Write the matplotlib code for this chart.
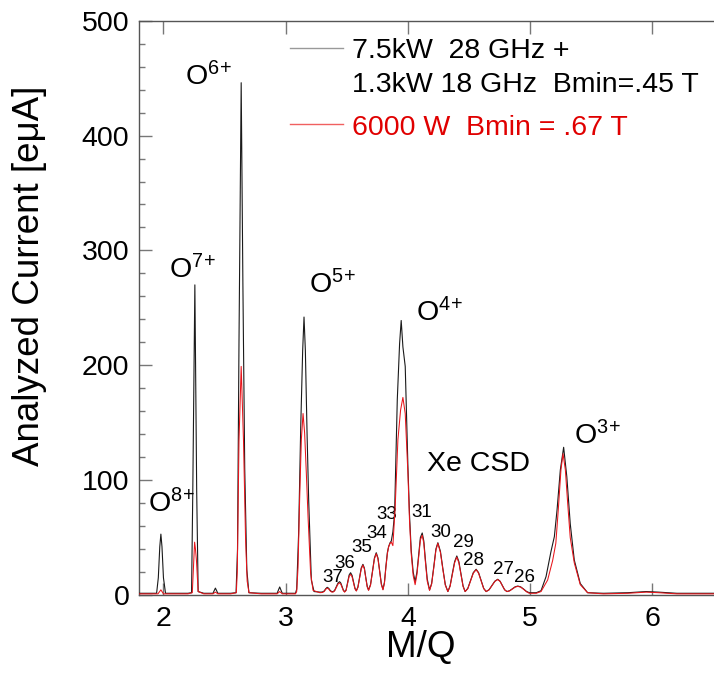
import matplotlib
matplotlib.use("Agg")
import matplotlib.pyplot as plt
from matplotlib.ticker import MultipleLocator, FixedLocator

plt.rcParams['font.family'] = ['Liberation Sans', 'DejaVu Sans']
plt.rcParams['mathtext.fontset'] = 'custom'
plt.rcParams['mathtext.rm'] = 'Liberation Sans'
plt.rcParams['mathtext.it'] = 'Liberation Sans'
plt.rcParams['mathtext.bf'] = 'Liberation Sans:bold'

# ---- data ----
mq_black = [1.80, 1.90, 1.944, 1.958, 1.970, 1.979, 1.988, 2.000, 2.017, 2.10, 2.20,
            2.230, 2.240, 2.257, 2.272, 2.284, 2.33, 2.405, 2.425, 2.445, 2.55,
            2.594, 2.606, 2.618, 2.636, 2.650, 2.665, 2.682, 2.699, 2.80, 2.93, 2.951, 2.972,
            3.08, 3.090, 3.106, 3.123, 3.139, 3.150, 3.161, 3.175, 3.188, 3.21, 3.232,
            3.28, 3.30, 3.315, 3.328, 3.340, 3.352, 3.364, 3.376, 3.387,
            3.400, 3.414, 3.428, 3.441, 3.451, 3.462, 3.472, 3.482,
            3.494, 3.507, 3.519, 3.531, 3.543, 3.555, 3.567, 3.578,
            3.591, 3.605, 3.618, 3.632, 3.644, 3.655, 3.667, 3.678,
            3.694, 3.71, 3.726, 3.741, 3.755, 3.769, 3.783, 3.796,
            3.808, 3.82, 3.832, 3.842, 3.854, 3.864, 3.877, 3.891, 3.913, 3.932, 3.945,
            3.959, 3.978, 4.000, 4.013, 4.027, 4.043, 4.059,
            4.074, 4.088, 4.102, 4.117, 4.130, 4.142, 4.158, 4.177,
            4.194, 4.212, 4.229, 4.245, 4.266, 4.286, 4.306, 4.327,
            4.345, 4.363, 4.382, 4.400, 4.417, 4.434, 4.451, 4.468,
            4.49, 4.513, 4.535, 4.558, 4.578, 4.599, 4.62, 4.64,
            4.664, 4.688, 4.711, 4.735, 4.754, 4.772, 4.791, 4.81,
            4.832, 4.855, 4.877, 4.899, 4.922, 4.946, 4.97, 4.993,
            5.05, 5.089, 5.13, 5.17, 5.198, 5.22, 5.247, 5.274, 5.30, 5.328,
            5.361, 5.41, 5.47, 5.60, 5.80, 5.95, 6.05, 6.20, 6.50]
cur_black = [1.5, 1.5, 1.5, 15, 42, 53, 42, 15, 1.5, 1.5, 1.5,
             2, 90, 270, 90, 3, 1.5, 1.5, 6, 1.5, 1.5,
             2, 40, 220, 446, 270, 110, 22, 2, 1.5, 1.5, 7, 1.5,
             1.5, 5, 54, 146, 213, 242, 213, 140, 83, 13, 3,
             2.5, 2.6, 3.5, 5.5, 6.7, 5.8, 4.0, 3.0, 2.9,
             3.9, 7.2, 10.4, 11.6, 10.4, 7.2, 4.2, 2.9,
             4.3, 11.2, 17.4, 19.4, 17.1, 11.5, 5.8, 3.7,
             7.0, 15.5, 23.5, 26.7, 23.4, 15.5, 7.6, 4.4,
             9.0, 20.6, 32.2, 36.8, 32.2, 21.0, 9.5, 5.0,
             11, 25, 37, 42, 45.5, 47, 55, 71, 170, 219, 239,
             216, 199, 112, 70, 39, 20, 11.6,
             20, 35, 50, 54, 47, 32, 14, 4.4,
             10, 25, 40, 45.5, 38, 23, 9, 3,
             8, 18.5, 29, 34, 29, 18.5, 8, 3,
             5.8, 12.7, 19.5, 22.4, 19.5, 12.7, 5.8, 3,
             4.6, 8.4, 12, 13.7, 12, 8.4, 4.6, 3,
             3.7, 5.4, 7.1, 7.8, 7.1, 5.2, 3.1, 2,
             2, 3.7, 16, 37.7, 50.8, 74, 109, 128.6, 103, 62,
             30.5, 10, 2, 1.5, 2, 3, 2.5, 1.5, 1.5]

mq_red = [1.80, 1.90, 1.955, 1.979, 2.000, 2.10, 2.20,
          2.236, 2.248, 2.255, 2.262, 2.270, 2.284, 2.33, 2.405, 2.425, 2.445, 2.55,
          2.596, 2.604, 2.618, 2.636, 2.655, 2.672, 2.685, 2.700, 2.80, 2.93, 2.951, 2.972,
          3.08, 3.090, 3.101, 3.114, 3.128, 3.142, 3.155, 3.169, 3.183, 3.204, 3.224,
          3.28, 3.30, 3.315, 3.328, 3.340, 3.352, 3.364, 3.376, 3.387,
          3.400, 3.414, 3.428, 3.441, 3.451, 3.462, 3.472, 3.482,
          3.494, 3.507, 3.519, 3.531, 3.543, 3.555, 3.567, 3.578,
          3.591, 3.605, 3.618, 3.632, 3.644, 3.655, 3.667, 3.678,
          3.694, 3.71, 3.726, 3.741, 3.755, 3.769, 3.783, 3.796,
          3.808, 3.82, 3.832, 3.842, 3.854, 3.864, 3.877, 3.896, 3.918, 3.940, 3.959,
          3.978, 4.000, 4.013, 4.027, 4.043, 4.059,
          4.074, 4.088, 4.102, 4.117, 4.130, 4.142, 4.158, 4.177,
          4.194, 4.212, 4.229, 4.245, 4.266, 4.286, 4.306, 4.327,
          4.345, 4.363, 4.382, 4.400, 4.417, 4.434, 4.451, 4.468,
          4.49, 4.513, 4.535, 4.558, 4.578, 4.599, 4.62, 4.64,
          4.664, 4.688, 4.711, 4.735, 4.754, 4.772, 4.791, 4.81,
          4.832, 4.855, 4.877, 4.899, 4.922, 4.946, 4.97, 4.993,
          5.05, 5.089, 5.143, 5.184, 5.21, 5.23, 5.252, 5.269, 5.288, 5.307,
          5.328, 5.361, 5.41, 5.47, 5.60, 5.80, 5.95, 6.05, 6.20, 6.50]
cur_red = [1, 1, 1, 4.5, 1, 1, 1,
           2, 30, 46, 40, 30, 3, 1, 1, 2.5, 1, 1,
           2, 20, 134, 199, 134, 48, 12, 2, 1, 1, 3, 1,
           1, 3, 24, 83, 135, 158, 141, 106, 68, 19, 4,
           2, 2.2, 3, 5, 6, 5.2, 3.5, 2.6, 2.5,
           3.5, 6.6, 9.5, 10.5, 9.4, 6.5, 3.8, 2.5,
           3.9, 10.3, 16.2, 18, 15.9, 10.6, 5.3, 3.5,
           6.6, 14.8, 22.6, 26, 22.6, 14.8, 7, 4,
           8.5, 20, 31.5, 36, 31.5, 20.5, 9, 4.5,
           10.5, 24, 36, 42, 45, 46, 43, 77, 135, 161, 172,
           158, 106, 65, 36, 17, 9,
           18, 33, 48, 52, 45, 30, 12, 4,
           9.5, 24, 39, 45, 37, 22, 8.5, 3,
           7.5, 17.5, 28, 33, 28, 17.5, 7.5, 3,
           5.5, 12.3, 19, 22, 19, 12.3, 5.5, 3,
           4.5, 8.2, 11.8, 13.5, 11.8, 8.2, 4.5, 3,
           3.6, 5.2, 6.9, 7.5, 6.9, 5, 2.8, 1.5,
           1.5, 3, 13, 30, 45, 74, 109, 123, 109, 80,
           50, 28, 9, 2, 1, 1.5, 2.5, 2, 1, 1]

ion_labels = ['8', '7', '6', '5', '4', '3']
ion_x = [1.876, 2.047, 2.180, 3.194, 4.068, 5.361]
ion_y = [71.6, 276, 444, 263, 238, 131.5]

xe_labels = ['37', '36', '35', '34', '33', '31', '30', '29', '28', '27', '26']
xe_x = [3.297, 3.400, 3.537, 3.659, 3.741, 4.027, 4.185, 4.368, 4.449, 4.694, 4.871]
xe_y = [11.3, 23.6, 37.2, 49.9, 66.2, 67.6, 50.2, 42.0, 26.1, 18.3, 11.6]

legend_black = ["7.5kW  28 GHz +", "1.3kW 18 GHz  Bmin=.45 T"]
legend_red = "6000 W  Bmin = .67 T"

x_ticks = [2, 3, 4, 5, 6]
y_ticks = [0, 100, 200, 300, 400, 500]

# ---- figure ----
fig = plt.figure(figsize=(7.14, 6.90), dpi=100)
ax = fig.add_axes([139/714, 95/690, 574.5/714, 574.3/690])

black_col = '#1a1a1a'
red_col = '#e8141a'
ax.plot(mq_black, cur_black, color=black_col, lw=0.8, zorder=3)
ax.plot(mq_red, cur_red, color=red_col, lw=0.75, zorder=4)

ax.set_xlim(1.8, 6.5)
ax.set_ylim(0, 500)
ax.xaxis.set_major_locator(FixedLocator(x_ticks))
ax.yaxis.set_major_locator(FixedLocator(y_ticks))
ax.yaxis.set_minor_locator(MultipleLocator(20))
ax.set_xticklabels([str(t) for t in x_ticks])
ax.set_yticklabels([str(t) for t in y_ticks])

spine_col = '#555555'
for side in ['left', 'bottom', 'top']:
    ax.spines[side].set_color(spine_col)
    ax.spines[side].set_linewidth(1.0)
ax.spines['right'].set_visible(False)

ax.tick_params(axis='both', which='major', direction='in', length=9, width=1.0,
               color='#777777', labelsize=20.5, pad=8, top=True, right=False)
ax.tick_params(axis='y', which='minor', direction='in', length=4.5, width=1.0,
               color='#777777', right=False)
ax.tick_params(axis='x', which='minor', bottom=False, top=False)
ax.tick_params(axis='y', which='major', pad=7)

fig.text(30/714, 1 - 276/690, "Analyzed Current [eμA]", rotation=90,
         ha='center', va='center', fontsize=26.5)
fig.text(421/714, 1 - 648/690, "M/Q", ha='center', va='center', fontsize=26.5)

for lab, x, y in zip(ion_labels, ion_x, ion_y):
    ax.text(x, y, r'O$^{%s\!+}$' % lab, fontsize=20.5, ha='left', va='baseline')

ax.text(4.158, 108, "Xe CSD", fontsize=20.5, ha='left', va='baseline')
for lab, x, y in zip(xe_labels, xe_x, xe_y):
    ax.text(x, y, lab, fontsize=13.5, ha='left', va='baseline')

# legend drawn manually in axes coordinates
ax.plot([0.263, 0.355], [0.953, 0.953], transform=ax.transAxes, color='#999999', lw=1.0)
ax.text(0.371, 0.9356, legend_black[0], transform=ax.transAxes,
        fontsize=20.5, ha='left', va='baseline', color='black')
ax.text(0.371, 0.8764, legend_black[1], transform=ax.transAxes,
        fontsize=20.5, ha='left', va='baseline', color='black')
ax.plot([0.263, 0.355], [0.8196, 0.8196], transform=ax.transAxes, color='#f06060', lw=1.0)
ax.text(0.371, 0.801, legend_red, transform=ax.transAxes,
        fontsize=20.5, ha='left', va='baseline', color='#e00000')

fig.savefig("out.png", dpi=100)
